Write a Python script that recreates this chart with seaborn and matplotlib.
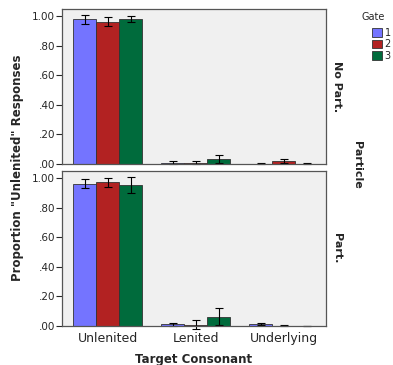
import pandas as pd
import numpy as np
import matplotlib
matplotlib.use("Agg")
import matplotlib.pyplot as plt
import seaborn as sns

# Data
consonants = ["Unlenited", "Lenited", "Underlying"]
gates = ["1", "2", "3"]
colors = ["#7474ff", "#b22222", "#006b3c"]

# No particle panel: one row per consonant, one column per gate
nopart_mean = [[0.980, 0.965, 0.985],
               [0.010, 0.010, 0.035],
               [0.003, 0.020, 0.002]]
nopart_err = [[0.030, 0.030, 0.020],
              [0.007, 0.007, 0.025],
              [0.003, 0.015, 0.002]]

# Particle panel
part_mean = [[0.965, 0.975, 0.955],
             [0.012, 0.008, 0.062],
             [0.012, 0.002, 0.001]]
part_err = [[0.030, 0.030, 0.055],
            [0.010, 0.030, 0.058],
            [0.008, 0.002, 0.001]]

panels = [("No Part.", nopart_mean, nopart_err), ("Part.", part_mean, part_err)]


def make_frame(means):
    rows = []
    for i, c in enumerate(consonants):
        for j, g in enumerate(gates):
            rows.append({"Consonant": c, "Gate": g, "Value": means[i][j]})
    return pd.DataFrame(rows)


sns.set_style("white")
plt.rcParams["font.family"] = ["DejaVu Sans"]

fig = plt.figure(figsize=(3.93, 3.65), dpi=100)
W, H = 393, 365
ax_top = fig.add_axes([62 / W, 1 - 164 / H, 264 / W, 155 / H])
ax_bot = fig.add_axes([62 / W, 1 - 326 / H, 264 / W, 155 / H])

for ax, (name, means, errs) in zip([ax_top, ax_bot], panels):
    df = make_frame(means)
    sns.barplot(data=df, x="Consonant", y="Value", hue="Gate",
                order=consonants, hue_order=gates, palette=colors,
                saturation=1, errorbar=None, width=0.78,
                edgecolor="#333333", linewidth=0.6, ax=ax, legend=False)
    # error bars drawn at the bar centres
    for j, g in enumerate(gates):
        cont = ax.containers[j]
        for i, bar in enumerate(cont):
            xc = bar.get_x() + bar.get_width() / 2
            ax.errorbar(xc, means[i][j], yerr=errs[i][j], fmt="none",
                        ecolor="black", elinewidth=0.8, capsize=3,
                        capthick=0.8, clip_on=False)
    ax.set_facecolor("#f0f0f0")
    ax.set_ylim(0, 1.05)
    ax.set_xlim(-0.52, 2.48)
    ax.set_yticks([0, 0.2, 0.4, 0.6, 0.8, 1.0])
    ax.set_yticklabels([".00", ".20", ".40", ".60", ".80", "1.00"], fontsize=7.5)
    ax.tick_params(axis="y", length=4, width=0.8, pad=1, left=True)
    ax.set_xlabel("")
    ax.set_ylabel("")
    for s in ax.spines.values():
        s.set_color("#555555")
        s.set_linewidth(0.9)
    ax.text(1.04, 0.5, name, transform=ax.transAxes, rotation=-90,
            ha="center", va="center", fontsize=8, fontweight="bold")

ax_top.set_xticks([])
ax_bot.tick_params(axis="x", length=0, labelsize=9, pad=4)

fig.text(18 / W, 1 - 168 / H, 'Proportion "Unlenited" Responses', rotation=90,
         ha="center", va="center", fontsize=8.5, fontweight="bold")
fig.text(194 / W, 1 - 359 / H, "Target Consonant", ha="center", va="center",
         fontsize=8.5, fontweight="bold")
fig.text(357 / W, 1 - 165 / H, "Particle", rotation=-90, ha="center",
         va="center", fontsize=8, fontweight="bold")

# legend at the right edge
fig.text(362 / W, 1 - 17 / H, "Gate", ha="left", va="center", fontsize=7)
handles = [plt.Rectangle((0, 0), 1, 1, facecolor=c, edgecolor="#333333",
                         linewidth=0.6) for c in colors]
fig.legend(handles, gates, loc="upper left",
           bbox_to_anchor=(370 / W, 1 - 26 / H), frameon=False, fontsize=7,
           handlelength=1.0, handleheight=1.0, handletextpad=0.3,
           labelspacing=0.15, borderaxespad=0, borderpad=0.2)

fig.savefig("out.png", dpi=100)
